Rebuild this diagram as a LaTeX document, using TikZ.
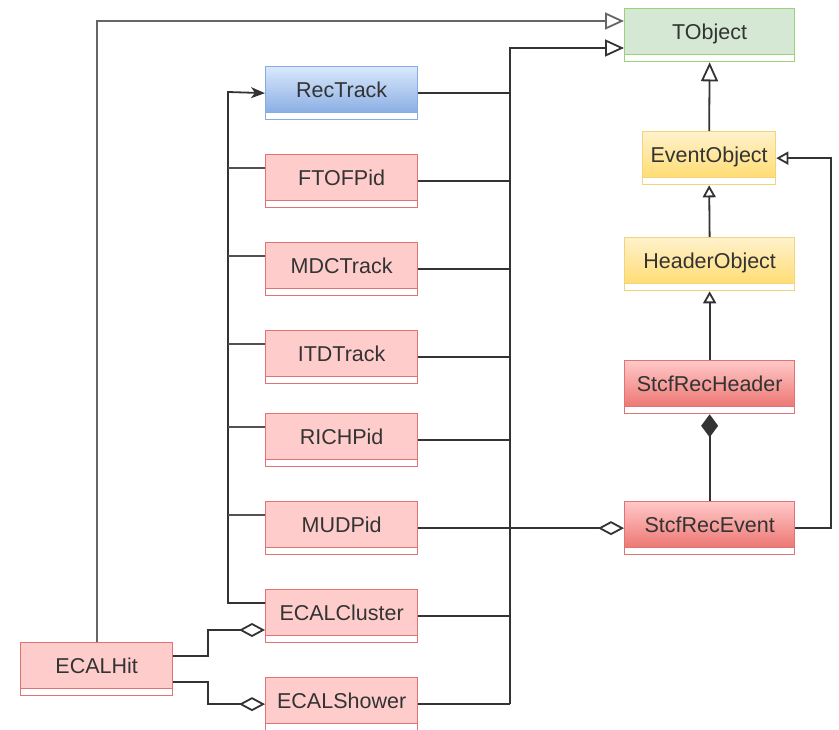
\documentclass[tikz,border=0pt]{standalone}
\usepackage{fontspec}
\setmainfont{Liberation Sans}
\usetikzlibrary{arrows.meta}

\definecolor{textgray}{HTML}{333333}
\definecolor{linegray}{HTML}{333333}
\definecolor{pinkfill}{HTML}{FFCCCC}
\definecolor{pinkstroke}{HTML}{E07474}
\definecolor{redtop}{HTML}{FFC8C8}
\definecolor{redbottom}{HTML}{EA6B66}
\definecolor{bluetop}{HTML}{DAE8FC}
\definecolor{bluebottom}{HTML}{7EA6E0}
\definecolor{bluestroke}{HTML}{86ADE3}
\definecolor{yellowtop}{HTML}{FFF2CC}
\definecolor{yellowbottom}{HTML}{FFD966}
\definecolor{yellowstroke}{HTML}{F2D37E}
\definecolor{greenfill}{HTML}{D5E8D4}
\definecolor{greenstroke}{HTML}{9BD17E}

\newfontfamily\umlfont{Liberation Sans}

\tikzset{
  umlbox/.style={draw=#1, line width=1.3pt, rectangle, anchor=north west,
    inner sep=0pt, minimum height=53pt, minimum width=152pt,
    text height=15pt, text depth=7pt, text=textgray,
    font=\umlfont\fontsize{21.5}{24}\selectfont,
    path picture={
      \fill[white] (path picture bounding box.south west)
        rectangle ([yshift=7pt]path picture bounding box.south east);
      \draw[#1, line width=1.1pt] ([yshift=7pt]path picture bounding box.south west)
        -- ([yshift=7pt]path picture bounding box.south east);
    }},
  pinkbox/.style={umlbox=pinkstroke, fill=pinkfill},
  redbox/.style={umlbox=pinkstroke, top color=redtop, bottom color=redbottom},
  bluebox/.style={umlbox=bluestroke, top color=bluetop, bottom color=bluebottom},
  yellowbox/.style={umlbox=yellowstroke, top color=yellowtop, bottom color=yellowbottom},
  greenbox/.style={umlbox=greenstroke, fill=greenfill},
  conn/.style={draw=linegray, line width=1.8pt},
  bigtri/.style={-{Triangle[open, length=19pt, width=17pt, fill=white]}},
  smalltri/.style={-{Triangle[open, length=12pt, width=13pt, fill=white]}},
  aggr/.style={-{Diamond[open, length=26pt, width=14pt, fill=white]}},
  compo/.style={-{Diamond[length=23pt, width=17pt]}},
  assoc/.style={-{Stealth[length=14pt, width=11pt, inset=4pt]}},
}

\begin{document}
\begin{tikzpicture}[x=1pt, y=-1pt]
\useasboundingbox (0,0) rectangle (839,730);

% class boxes
\node[greenbox, minimum width=170pt] (tobject) at (624,8) {TObject};
\node[yellowbox, minimum width=133pt] (eventobj) at (642,131) {EventObject};
\node[yellowbox, minimum width=170pt] (headerobj) at (624,237) {HeaderObject};
\node[redbox, minimum width=170pt] (stcfheader) at (624,360) {StcfRecHeader};
\node[redbox, minimum width=170pt] (stcfevent) at (624,501) {StcfRecEvent};

\node[bluebox] (rectrack) at (265,66) {RecTrack};
\node[pinkbox] (ftof) at (265,154) {FTOFPid};
\node[pinkbox] (mdc) at (265,242) {MDCTrack};
\node[pinkbox] (itd) at (265,330) {ITDTrack};
\node[pinkbox] (rich) at (265,413) {RICHPid};
\node[pinkbox] (mud) at (265,501) {MUDPid};
\node[pinkbox] (cluster) at (265,589) {ECALCluster};
\node[pinkbox] (shower) at (265,677) {ECALShower};
\node[pinkbox] (ecalhit) at (20,642) {ECALHit};

% junction points of the two buses
\coordinate (lbus) at (228,92);
\coordinate (rbus) at (510,48);
\coordinate (rside) at (831,0);
\coordinate (hitx) at (208,0);

% left bus: everything refers to RecTrack
\coordinate (ftofL) at ([yshift=-14pt]ftof.north west);
\coordinate (mdcL) at ([yshift=-14pt]mdc.north west);
\coordinate (itdL) at ([yshift=-14pt]itd.north west);
\coordinate (richL) at ([yshift=-14pt]rich.north west);
\coordinate (mudL) at ([yshift=-14pt]mud.north west);
\coordinate (clusterL) at ([yshift=-14pt]cluster.north west);
\draw[conn, assoc] (clusterL) -- (clusterL -| lbus) -- (lbus) -- (rectrack.west);
\foreach \c in {ftofL, mdcL, itdL, richL, mudL}
  \draw[conn, draw=linegray!85] (\c) -- (\c -| lbus);

% right bus: inheritance from TObject
\draw[conn, bigtri] (shower.east -| rbus) -- (rbus) -- (rbus -| tobject.west);
\foreach \n in {rectrack, ftof, mdc, itd, rich, cluster, shower}
  \draw[conn] (\n.east) -- (\n.east -| rbus);

% ECALHit inherits from TObject
\coordinate (tobjA) at ([yshift=-13pt]tobject.north west);
\draw[conn, draw=linegray!75, bigtri] (ecalhit.north) |- (tobjA);

% event hierarchy
\draw[conn, bigtri] (eventobj.north) -- (tobject.south);
\draw[conn, smalltri] (headerobj.north) -- (eventobj.south);
\draw[conn, smalltri] (stcfheader.north) -- (headerobj.south);
\draw[conn, compo] (stcfevent.north) -- (stcfheader.south);
\draw[conn, smalltri] (stcfevent.east) -- (stcfevent.east -| rside)
  -- (rside |- eventobj.east) -- (eventobj.east);

% MUDPid aggregated by StcfRecEvent
\draw[conn, aggr] (mud.east) -- (stcfevent.west);

% ECALHit aggregated by cluster and shower
\coordinate (hitA) at ([yshift=-14pt]ecalhit.north east);
\coordinate (hitB) at ([yshift=-40pt]ecalhit.north east);
\coordinate (clusterW) at ([yshift=-41pt]cluster.north west);
\draw[conn, aggr] (hitA) -- (hitA -| hitx) -- (hitx |- clusterW) -- (clusterW);
\draw[conn, aggr] (hitB) -- (hitB -| hitx) -- (hitx |- shower.west) -- (shower.west);
\end{tikzpicture}
\end{document}
